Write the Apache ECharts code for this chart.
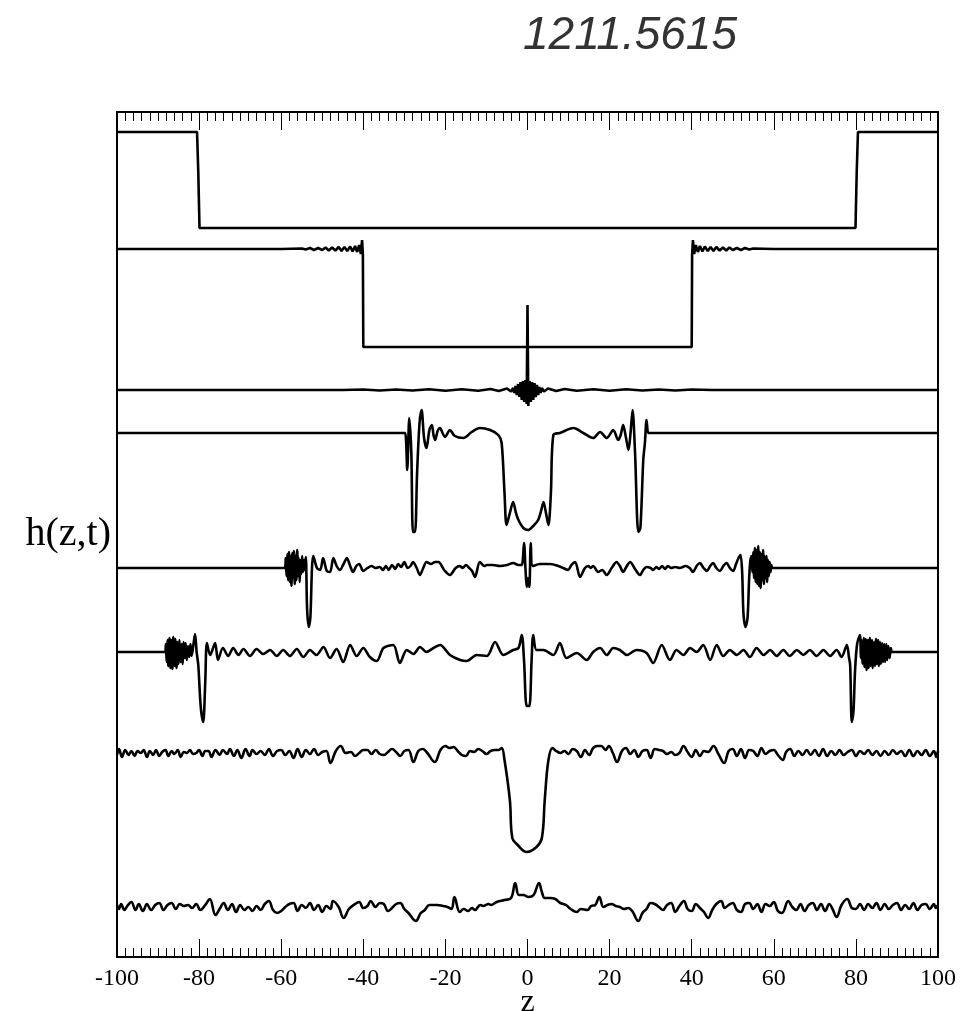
<!DOCTYPE html>
<html>
<head>
<meta charset="utf-8">
<script src="https://cdn.jsdelivr.net/npm/echarts@6/dist/echarts.min.js"></script>
<style>
  html, body { margin: 0; padding: 0; background: #fff; }
  #chart { width: 963px; height: 1011px; }
</style>
</head>
<body>
<div id="chart"></div>
<script>
// z axis
var zTicks = [-100, -80, -60, -40, -20, 0, 20, 40, 60, 80, 100];

// vertical offset of each snapshot (arbitrary units, top to bottom)
var baselines = [825, 708, 567, 524, 389, 305, 204, 50];

// each curve: [z, deviation from its baseline]
var curve1 = [[-100, 0], [-80.5, 0], [-80.2, -40], [-79.9, -96], [79.9, -96], [80.2, -40], [80.5, 0], [100, 0]];

var curve2 = [[-100, 0], [-60, 0], [-55, 0.5], [-54, -0.5], [-53, 1], [-52, -1], [-51, 1], [-50, -1], [-49.2, 1.5], [-48.4, -1.5],
  [-47.6, 1.5], [-46.8, -1.5], [-46, 2], [-45.3, -2], [-44.6, 2], [-43.9, -2], [-43.2, 2.5], [-42.6, -2.5], [-42, 3], [-41.5, -3],
  [-41, 4], [-40.6, -5], [-40.3, 9], [-40.1, -6], [-40, -98], [40, -98], [40.1, -6], [40.3, 9], [40.6, -5], [41, 4], [41.5, -3],
  [42, 3], [42.6, -2.5], [43.2, 2.5], [43.9, -2], [44.6, 2], [45.3, -2], [46, 2], [46.8, -1.5], [47.6, 1.5], [48.4, -1.5],
  [49.2, 1.5], [50, -1], [51, 1], [52, -1], [53, 1], [54, -0.5], [55, 0.5], [60, 0], [100, 0]];

var curve3 = [[-100, 0], [-45, 0], [-40, 0.5], [-36, -0.5], [-32, 0.5], [-28, -0.5], [-24, 0.7], [-20, -0.7], [-16, 0.8], [-12, -0.8],
  [-9, 1], [-7, -1], [-5, 1.5], [-4, -1.5], [-3.5, 2], [-3.2, -3], [-2.9, 4], [-2.6, -5], [-2.3, 6], [-2, -7], [-1.7, 8],
  [-1.4, -10], [-1.1, 9], [-0.8, -12], [-0.5, 10], [-0.2, -14], [0, 85], [0.2, -16], [0.5, 9], [0.8, -12], [1.1, 8], [1.4, -10],
  [1.7, 7], [2, -7], [2.3, 5], [2.6, -5], [2.9, 3], [3.2, -3], [3.5, 2], [4, -1.5], [5, 1.5], [7, -1], [9, 1], [12, -0.8],
  [16, 0.8], [20, -0.7], [24, 0.7], [28, -0.5], [32, 0.5], [36, -0.5], [40, 0.5], [45, 0], [100, 0]];

var curve4 = [[-100, 0], [-30.5, 0], [-29.8, 0], [-29.3, -37], [-28.8, 15], [-28.3, -20], [-27.9, -99], [-27.4, -99], [-26.9, -40],
  [-26.3, 10], [-25.8, 23], [-25.2, -5], [-24.6, -15], [-23.9, 3], [-23.3, 8], [-22.9, -2], [-22.5, -7], [-21.9, 2], [-21.3, 5],
  [-20.7, 0], [-20.1, -4], [-18.9, 3], [-17.7, -3], [-15.6, -5], [-13.6, 1], [-11.6, 5], [-9.1, 3], [-7.1, -2], [-6.3, -10],
  [-5.6, -60], [-5.1, -92], [-4.3, -80], [-3.5, -69], [-2.8, -80], [-2.2, -87], [-1, -95], [0.2, -97], [1.4, -93], [2.6, -87],
  [3.3, -78], [3.9, -69], [4.5, -80], [5.1, -92], [5.7, -60], [6.3, -2], [7.9, 0], [11.2, 5], [13.6, 0], [16, -5], [17.7, 1],
  [19.3, -5], [20.9, 3], [22.1, -7], [22.7, -2], [23.3, 8], [24, -5], [24.6, -17], [25.1, 0], [25.6, 23], [26.2, -20], [27, -99],
  [27.5, -95], [28.2, -27], [28.6, -10], [29, 13], [29.4, 0], [29.8, 0], [100, 0]];

var curve5 = [[-100, 0], [-60, 0], [-59.1, 0], [-58.9, 10], [-58.7, -8], [-58.5, 14], [-58.3, -12], [-58.1, 16], [-57.9, -14],
  [-57.7, 12], [-57.5, -18], [-57.3, 15], [-57.1, -10], [-56.9, 17], [-56.7, -16], [-56.5, 12], [-56.3, -12], [-56.1, 18],
  [-55.9, -8], [-55.7, 10], [-55.5, -14], [-55.3, 8], [-55.1, -6], [-54.9, 12], [-54.7, -4], [-54.5, 8], [-54.3, -2], [-54, 11],
  [-53.7, -40], [-53.3, -59], [-52.9, -50], [-52.5, 0], [-52.2, 12], [-51.3, 0], [-50.5, -2], [-49.8, 10], [-48.9, -3], [-48.1, -4],
  [-47.3, 10], [-46.5, 2], [-45.7, -2], [-44.8, 4], [-44, 10], [-43.2, 2], [-42.5, -4], [-41.7, 2], [-41, 4], [-40, -3], [-39, 0],
  [-38, 2], [-37, 0], [-36, 1], [-35.2, -2], [-34.5, 2], [-33.8, -2], [-33, 3], [-32.2, -1], [-31.5, 4], [-30.8, 1], [-30, 6],
  [-29.2, 0], [-28.5, 2], [-27.9, 6], [-27, 0], [-26.2, -7], [-25.4, 0], [-24.6, 6], [-23.5, 4], [-22.5, 6], [-21.7, 6],
  [-20.3, -2], [-18.9, -7], [-17.5, 0], [-16.5, 2], [-15.8, 0], [-15, 3], [-14.2, 0], [-13.5, -3], [-12.8, -9], [-11.6, 6],
  [-10.5, 2], [-9.9, 3], [-8.5, 3], [-6.7, 2], [-5, 3], [-3.5, 5], [-2.2, 3], [-1.4, 3], [-0.85, 25], [-0.5, 0], [-0.2, -19],
  [0.1, -10], [0.45, -19], [0.8, 25], [1.3, 2], [3, 4], [5.5, 4], [7.5, 2], [8.7, 0], [9.9, -2], [10.7, 3], [11.6, 6], [12.8, -9],
  [14, 0], [14.8, 2], [15.4, 0], [16, 2], [17.2, -4], [18.2, -2], [19.3, -7], [20.5, 0], [21.7, 6], [22.5, 2], [23.3, -4],
  [24.2, 2], [25, 6], [26.2, -1], [27.4, -7], [28.2, -2], [29, 1], [30, 0], [30.6, -2], [31.4, 1], [32, -1], [32.8, 2], [33.5, -1],
  [34.2, 2], [35, 0], [36, 1], [37.1, 0], [38.5, 2], [39.5, 0], [40.3, -4], [41.2, 2], [42, 5], [42.9, 0], [43.7, -3], [44.5, 2],
  [45.2, 5], [46, 0], [46.9, -3], [47.7, 2], [48.5, 5], [49.3, 0], [50.1, -3], [50.8, 4], [51.4, 10], [51.9, 13], [52.3, -5],
  [52.6, -45], [53.1, -59], [53.6, -50], [54, -10], [54.3, 8], [54.6, 12], [54.8, -4], [55, 16], [55.2, -10], [55.4, 20],
  [55.6, -14], [55.8, 18], [56, -16], [56.2, 22], [56.4, -18], [56.6, 16], [56.8, -20], [57, 14], [57.2, -12], [57.4, 18],
  [57.6, -16], [57.8, 12], [58, -10], [58.2, 12], [58.4, -14], [58.6, 8], [58.8, -8], [59, 6], [59.2, -4], [59.4, 3], [59.6, 0],
  [61, 0], [100, 0]];

var curve6 = [[-100, 0], [-89, 0], [-88.3, 0], [-88.1, 8], [-87.9, -10], [-87.7, 12], [-87.5, -14], [-87.2, 14], [-87, -16],
  [-86.8, 12], [-86.5, -17], [-86.3, 15], [-86, -14], [-85.8, 13], [-85.5, -16], [-85.3, 10], [-85, -12], [-84.8, 12],
  [-84.5, -10], [-84.3, 8], [-84, -12], [-83.8, 10], [-83.5, -6], [-83.3, 9], [-83, -8], [-82.7, 6], [-82.4, -5], [-82.1, 8],
  [-81.8, -4], [-81, 18], [-80.6, 0], [-80.2, -13], [-79.6, -55], [-79, -70], [-78.5, -30], [-78.1, 9], [-77.3, -3], [-76.1, 9],
  [-75.4, -8], [-74.2, 4], [-72.9, -4], [-71.7, 4], [-70.4, -3], [-69.2, 3], [-67.6, -4], [-66, 3], [-64.4, -2], [-62.7, 2],
  [-61.1, -4], [-59.5, 2], [-57.9, -4], [-56.2, 3], [-54.6, -5], [-53, 2], [-51.4, -3], [-49.7, 5], [-48.1, -6], [-46.5, 3],
  [-44.9, -10], [-43.2, 7], [-41.6, -4], [-40, 4], [-38.4, -5], [-36.7, -9], [-35.1, 4], [-32.7, 7], [-31.1, -11], [-29.4, 2],
  [-27.8, -2], [-26.2, 5], [-24.6, 0], [-22.9, 4], [-21.3, 7], [-18.9, -3], [-16.4, -8], [-14.8, -9], [-12.4, -3], [-9.9, -4],
  [-7.9, 10], [-5.9, -3], [-3.5, 2], [-2.2, 4], [-1.4, 17], [-0.85, -8], [-0.2, -54], [0.45, -54], [1, -8], [1.4, 17], [2.2, 2],
  [3.9, 2], [6.3, -3], [7.9, 9], [9.5, -6], [12, -1], [14.4, -8], [16, 0], [17.7, 4], [19.3, -3], [20.9, 4], [22.5, 2],
  [24.2, -3], [26.6, 2], [29, -1], [30.6, -11], [32.7, 7], [34.7, -8], [36.3, 2], [38, -3], [39.6, 4], [41.2, 0], [42.8, 7],
  [44.5, -8], [46.1, 7], [47.7, -4], [49.3, 2], [51, -3], [52.6, 2], [54.2, -5], [55.8, 4], [57.5, -3], [59.1, 2], [60.7, -4],
  [62.3, 2], [63.9, -4], [65.6, 2], [67.2, -3], [68.8, 2], [70.4, -4], [72.1, 2], [73.7, -4], [75.3, 2], [76.5, -5], [77.8, 7],
  [78.3, -5], [78.6, -13], [79, -70], [79.4, -60], [79.8, -18], [80.3, 8], [81, 17], [81.2, -6], [81.4, 12], [81.6, -12],
  [81.9, 14], [82.1, -15], [82.4, 13], [82.6, -18], [82.9, 12], [83.1, -16], [83.4, 14], [83.6, -14], [83.9, 12], [84.1, -16],
  [84.4, 10], [84.6, -14], [84.9, 13], [85.1, -12], [85.4, 12], [85.6, -14], [85.9, 10], [86.1, -12], [86.4, 9], [86.6, -10],
  [86.9, 8], [87.1, -10], [87.4, 8], [87.6, -8], [87.9, 6], [88.2, -6], [88.5, 4], [88.8, 0], [90, 0], [100, 0]];

var curve7 = [[-100, -2], [-99.5, 4], [-98.8, -4], [-98, 3], [-97.2, -2], [-96.5, 2], [-95.7, -3], [-95, 2], [-94.2, 0], [-93.5, 3],
  [-92.7, -4], [-92, 2], [-91.2, -2], [-90.5, 3], [-89.7, -3], [-89, 1], [-88.2, 3], [-87.5, -3], [-86.7, 2], [-86, -1],
  [-85.2, 3], [-84.5, -4], [-83.7, 1], [-83, 0], [-82.2, 3], [-81.5, -1], [-80.7, 0], [-80, 3], [-79.2, -3], [-78.5, 2],
  [-77.7, 2], [-77, -4], [-76, 3], [-75, -2], [-74.2, 3], [-73.2, -1], [-72.5, 4], [-71.5, -3], [-70.7, 3], [-69.7, -5],
  [-68.7, 4], [-67.7, -3], [-67, 3], [-66, -1], [-65, 2], [-64, -2], [-63, 4], [-62, -3], [-61, 2], [-60, 3], [-59, -2],
  [-58, 2], [-57, -5], [-56, 4], [-55, -4], [-54, 3], [-53, -1], [-52, 4], [-51, -2], [-50, 1], [-49, 2], [-48, -10],
  [-46.7, 2], [-45.5, 7], [-44.3, 0], [-43, 1], [-42, -3], [-41, 0], [-40, 3], [-39, 3], [-38, -1], [-37, 3], [-36, -1],
  [-35, -2], [-34, 1], [-33, 4], [-32, 1], [-31, -3], [-30, 2], [-29, 3], [-27.8, -9], [-26.6, 2], [-25.5, 4], [-24.4, 0],
  [-22.6, -9], [-21.2, 3], [-20, 7], [-19, 5], [-18, 6], [-17, 2], [-16, -2], [-15, -3], [-14, 2], [-13, 1], [-12, 4],
  [-11, 2], [-10, -1], [-9, 2], [-8, 3], [-7, 3], [-6.3, 5], [-5.6, -7], [-4.3, -47], [-3.7, -85], [-2.4, -92], [-0.15, -99],
  [2.2, -94], [3.5, -85], [4.2, -47], [5.1, -7], [6.1, 5], [7, 2], [8, 0], [9, 2], [10, -1], [11, 4], [12, 2], [13, -4],
  [14, 3], [15, -2], [16, 5], [17, 7], [18, 7], [19, 3], [19.8, 7], [20.8, 0], [21.8, -9], [23, 2], [24, 5], [25, -1], [26, 3],
  [27, -4], [28, 2], [29, 3], [30, -5], [31, 4], [32, 3], [33, 2], [34, -1], [35, 1], [36, -2], [37, 0], [38, 7], [39, 1],
  [40, -4], [41, 3], [42, -3], [43, 2], [44, 1], [45.3, 7], [46.5, -1], [47.9, -10], [49, 2], [50, 4], [51, -3], [52, 4],
  [53, -5], [54, 3], [55, 2], [56, -3], [57, 5], [58, -1], [59, 2], [60, 3], [61, -2], [62.2, -7], [63, 1], [64, 4], [65, -3],
  [66, 2], [67, -2], [68, 3], [69, -2], [70, 3], [71, -3], [72, 4], [73, -3], [74, 2], [75, -2], [76, 3], [77, -2], [78, 1],
  [79, 3], [80, -3], [81, 2], [82, -1], [83, 3], [84, -2], [85, 2], [86, -3], [87, 2], [88, -2], [89, 3], [90, -1], [91, 2],
  [92, -3], [93, 3], [94, -3], [95, 2], [96, -2], [97, 3], [98, -3], [99, 2], [99.6, -4], [100, 2]];

var curve8 = [[-100, 2], [-99.5, -2], [-99, 3], [-98.2, -3], [-97.5, 1], [-96.5, 5], [-95.5, -3], [-94.7, 3], [-93.7, -4],
  [-92.7, 3], [-91.7, -3], [-90.7, 2], [-89.7, 4], [-88.7, -3], [-87.7, 2], [-86.7, 4], [-85.7, -2], [-84.7, 3], [-83.7, 1],
  [-82.7, 2], [-81.7, -1], [-80.7, 3], [-79.7, -3], [-78.5, 2], [-77.4, 8], [-76, -8], [-75, -2], [-74, 4], [-73, -3], [-72, 3],
  [-71, -5], [-70, 2], [-69, -3], [-68, 0], [-67, -4], [-66, 1], [-65, -3], [-64, 3], [-63, 6], [-62, -3], [-61, -6], [-60, -4],
  [-59, 0], [-58, 3], [-57, 4], [-56, -4], [-55, 2], [-54, -1], [-53, 4], [-52, -3], [-51, 2], [-50, -5], [-49, 1], [-48, -2],
  [-47.4, 6], [-46, 0], [-44.8, -11], [-43.5, -2], [-42, 3], [-41, 5], [-40, -1], [-39, 1], [-38.2, 6], [-37, 0], [-36, 4],
  [-35, 3], [-34, -4], [-33, -1], [-32, 3], [-31, 4], [-30, -2], [-29, -6], [-27.2, -14], [-26, -6], [-25, -3], [-23.9, 2],
  [-22, 2], [-20.6, 1], [-19.5, 0], [-18.5, -2], [-17.8, 10], [-16.5, -5], [-15.5, -2], [-14.5, -4], [-13.5, -1], [-12.8, -3],
  [-11.5, 2], [-10.8, 1], [-9.5, 3], [-8.9, 2], [-7.5, 5], [-5.6, 7], [-4, 9], [-3, 24], [-2.1, 12], [-1, 12], [0.25, 10],
  [1.5, 12], [2.8, 24], [3.5, 15], [4.2, 9], [5.5, 9], [6.8, 8], [8, 4], [9.4, 2], [10.5, -2], [12, -5], [13, -2], [14.6, -3],
  [15.5, 1], [16.5, 2], [17.5, 10], [18.5, 0], [19.5, 2], [20.5, 3], [21.5, 1], [22.5, 0], [23.5, -2], [24.5, -1], [25.5, -4],
  [27, -14], [28, -6], [29, -2], [30, 4], [31, 3], [32, 0], [33, -3], [34, 2], [35, 4], [36, -5], [37, 1], [38.1, 6], [39, -2],
  [40, -4], [41, 3], [42, -1], [43, -5], [44, -11], [45, -3], [46, 3], [47.2, 6], [48, -1], [49, 2], [50, 4], [51, -3],
  [52, -5], [53, 3], [54, 4], [55, -2], [56, 3], [57, -5], [58, 3], [59, 1], [60, 5], [61, -4], [62, -6], [63.5, 6], [64.5, 0],
  [65.5, -3], [66.5, 3], [67.5, -4], [68.5, 2], [69.5, 4], [70.5, -3], [71.5, 3], [72.5, -4], [73.5, 3], [74.3, -2],
  [75.3, -10], [76.5, 2], [77.9, 8], [79, -1], [80, -2], [81, 3], [82, -3], [83, 3], [84, -1], [85, 4], [86, -3], [87, 3],
  [88, -2], [89, 2], [90, 4], [91, -3], [92, 2], [93, -2], [94, 4], [95, -3], [96, 2], [97, 3], [98, -2], [99, 3], [99.5, -1],
  [100, 2]];

var curves = [curve1, curve2, curve3, curve4, curve5, curve6, curve7, curve8];
var smoothing = [false, false, false, 0.3, 0.3, 0.3, 0.4, 0.4];

var myChart = echarts.init(document.getElementById('chart'));

var series = curves.map(function (c, i) {
    return {
        type: 'line',
        xAxisIndex: 0,
        yAxisIndex: 0,
        data: c.map(function (p) { return [p[0], baselines[i] + p[1]]; }),
        showSymbol: false,
        symbol: 'none',
        smooth: smoothing[i],
        lineStyle: { color: '#000', width: 2.6 },
        animation: false,
        z: 3
    };
});

var serif = '"Liberation Serif", "DejaVu Serif", serif';

var tickCommon = {
    axisLine: { show: true, onZero: false, lineStyle: { color: '#000', width: 2 } },
    axisTick: { show: true, inside: true, length: 18, lineStyle: { color: '#000', width: 1 } },
    minorTick: { show: true, splitNumber: 10, length: 9, lineStyle: { color: '#000', width: 1 } },
    splitLine: { show: false }
};

var option = {
    animation: false,
    backgroundColor: '#fff',
    grid: { left: 117, right: 25, top: 112, bottom: 54, containLabel: false, outerBoundsMode: 'none' },
    title: {
        text: '1211.5615',
        left: 518,
        top: 8,
        textStyle: { fontFamily: '"Liberation Sans", Arial, sans-serif', fontStyle: 'italic', fontWeight: 'normal', fontSize: 46, color: '#333' }
    },
    xAxis: [
        Object.assign({
            type: 'value', min: -100, max: 100, interval: 20, position: 'bottom',
            name: 'z', nameLocation: 'middle', nameGap: 30, nameMoveOverlap: false,
            nameTextStyle: { fontFamily: serif, fontSize: 32, color: '#000' },
            axisLabel: { show: true, margin: 10, fontFamily: serif, fontSize: 24, color: '#000',
                customValues: zTicks }
        }, tickCommon),
        Object.assign({
            type: 'value', min: -100, max: 100, interval: 20, position: 'top',
            axisLabel: { show: false }
        }, tickCommon)
    ],
    yAxis: [
        {
            type: 'value', min: 0, max: 845, position: 'left',
            name: 'h(z,t)', nameLocation: 'middle', nameRotate: 0, nameGap: 6, nameMoveOverlap: false,
            nameTextStyle: { fontFamily: serif, fontSize: 40, color: '#000', align: 'right', padding: [0, 0, 14, 0] },
            axisLine: { show: true, onZero: false, lineStyle: { color: '#000', width: 2 } },
            axisTick: { show: false }, axisLabel: { show: false }, splitLine: { show: false }
        },
        {
            type: 'value', min: 0, max: 845, position: 'right',
            axisLine: { show: true, onZero: false, lineStyle: { color: '#000', width: 2 } },
            axisTick: { show: false }, axisLabel: { show: false }, splitLine: { show: false }
        }
    ],
    series: series
};

myChart.setOption(option);
</script>
</body>
</html>
